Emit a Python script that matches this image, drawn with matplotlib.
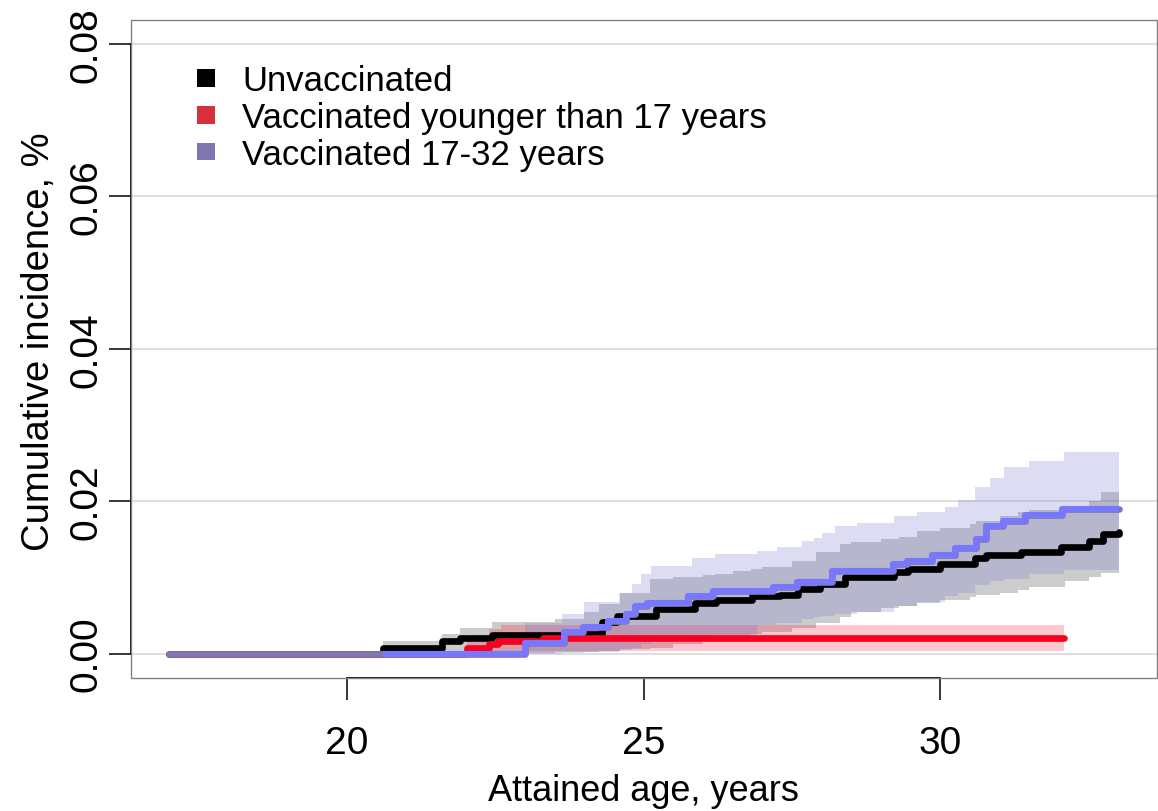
import matplotlib
matplotlib.use("Agg")
import matplotlib.pyplot as plt
import numpy as np
from matplotlib.patches import Patch, Rectangle

plt.rcParams['font.family'] = ['Liberation Sans', 'DejaVu Sans']

# ---------------- data ----------------
# Unvaccinated: cumulative incidence (%) step curve
age_unvacc = [17.0, 20.6, 21.6, 21.9, 22.45, 24.0, 24.3, 24.55, 25.2, 25.87, 26.22,
              26.82, 27.29, 27.6, 27.97, 28.39, 29.21, 29.46, 30.0, 30.59, 30.77,
              31.36, 32.03, 32.5, 32.74, 33.0]
ci_unvacc = [0.0, 0.0008, 0.0016, 0.0020, 0.0024, 0.0026, 0.0042, 0.0049, 0.0059, 0.0066,
             0.0070, 0.0075, 0.0077, 0.0085, 0.0092, 0.0101, 0.0107, 0.0111, 0.0118,
             0.0125, 0.0129, 0.0134, 0.0140, 0.0148, 0.0157, 0.0160]

# Vaccinated younger than 17 years
age_young = [17.0, 22.02, 22.4, 22.55, 23.3, 32.08]
ci_young = [0.0, 0.0008, 0.0013, 0.0016, 0.0020, 0.0020]

# Vaccinated 17-32 years
age_old = [17.0, 23.0, 23.66, 23.98, 24.39, 24.7, 24.85, 25.05, 25.74, 26.16, 27.17,
           27.59, 28.18, 29.2, 29.44, 29.85, 30.25, 30.6, 30.77, 31.05, 31.43, 32.05, 33.0]
ci_old = [0.0, 0.0014, 0.0029, 0.0035, 0.0043, 0.0052, 0.0062, 0.0067, 0.0076, 0.0082,
          0.0088, 0.0094, 0.0109, 0.0118, 0.0122, 0.0129, 0.0138, 0.0151, 0.0167,
          0.0174, 0.0182, 0.0190, 0.0190]

# 95% confidence bands
band_age_unvacc = [20.6, 21.6, 21.9, 22.45, 23.5, 24.0, 24.25, 24.6, 25.1, 25.5, 26.0,
                   26.2, 26.5, 26.8, 27.0, 27.5, 27.9, 28.3, 28.5, 29.0, 29.3, 29.6,
                   30.0, 30.5, 30.6, 31.0, 31.3, 31.5, 32.1, 32.5, 32.7, 33.0]
band_upper_unvacc = [0.0016, 0.0026, 0.0033, 0.0042, 0.0046, 0.0055, 0.0065, 0.0079,
                     0.0098, 0.0100, 0.0103, 0.0105, 0.0108, 0.0111, 0.0114, 0.0122,
                     0.0133, 0.0144, 0.0146, 0.0150, 0.0153, 0.0161, 0.0165, 0.0170,
                     0.0174, 0.0180, 0.0186, 0.0188, 0.0193, 0.0200, 0.0212, 0.0212]
band_lower_unvacc = [0.0, 0.0, 0.0, 0.0001, 0.0002, 0.0002, 0.0004, 0.0006, 0.0008,
                     0.0012, 0.0016, 0.0018, 0.0022, 0.0026, 0.0028, 0.0034, 0.0040,
                     0.0048, 0.0054, 0.0060, 0.0063, 0.0066, 0.0070, 0.0074, 0.0077,
                     0.0080, 0.0084, 0.0088, 0.0095, 0.0100, 0.0106, 0.0108]

band_age_young = [22.02, 22.4, 22.6, 32.08]
band_upper_young = [0.0024, 0.0032, 0.0037, 0.0037]
band_lower_young = [0.0001, 0.0002, 0.0003, 0.0003]

band_age_old = [23.0, 23.63, 24.0, 24.59, 24.8, 24.96, 25.13, 25.82, 26.2, 26.9, 27.24,
                27.66, 27.87, 28.0, 28.23, 28.6, 29.22, 29.6, 30.08, 30.29, 30.59,
                30.83, 31.07, 31.49, 32.08, 33.0]
band_upper_old = [0.0040, 0.0052, 0.0068, 0.0079, 0.0092, 0.0105, 0.0115, 0.0125, 0.0131,
                  0.0135, 0.0140, 0.0148, 0.0152, 0.0158, 0.0167, 0.0172, 0.0180, 0.0186,
                  0.0193, 0.0201, 0.0219, 0.0230, 0.0245, 0.0253, 0.0265, 0.0265]
band_lower_old = [0.0, 0.0001, 0.0002, 0.0005, 0.0008, 0.0012, 0.0015, 0.0020, 0.0025,
                  0.0037, 0.0040, 0.0045, 0.0048, 0.0050, 0.0052, 0.0054, 0.0063, 0.0068,
                  0.0075, 0.0080, 0.0090, 0.0095, 0.0098, 0.0104, 0.0110, 0.0116]

labels = ["Unvaccinated", "Vaccinated younger than 17 years", "Vaccinated 17-32 years"]
legend_colors = ["#000000", "#D5303C", "#8077B0"]

x_ticks = [20, 25, 30]
y_ticks = [0.00, 0.02, 0.04, 0.06, 0.08]
y_tick_labels = ["0.00", "0.02", "0.04", "0.06", "0.08"]

# ---------------- figure ----------------
fig = plt.figure(figsize=(11.58, 8.12), dpi=100)
ax = fig.add_axes([131 / 1158, 133 / 812, 1025.5 / 1158, 658.4 / 812])

ax.set_xlim(16.36, 33.64)
ax.set_ylim(-0.0032, 0.0832)

# grid
for yv in y_ticks:
    ax.axhline(yv, color="#dcdcdc", lw=1.3, zorder=0)

# confidence bands
ax.fill_between(band_age_unvacc, band_lower_unvacc, band_upper_unvacc, step="post",
                color="black", alpha=0.20, lw=0, zorder=1)
ax.fill_between(band_age_young, band_lower_young, band_upper_young, step="post",
                color="#FF0020", alpha=0.22, lw=0, zorder=1)
ax.fill_between(band_age_old, band_lower_old, band_upper_old, step="post",
                color="#7A7AD0", alpha=0.26, lw=0, zorder=1)

lw = 4.8
ax.step(age_unvacc, ci_unvacc, where="post", color="black", lw=lw,
        solid_capstyle="round", zorder=3)
ax.step(age_young, ci_young, where="post", color="#F80020", lw=lw,
        solid_capstyle="round", zorder=3)
# 17-32 group: muted underlay plus bright overlay from the first event onwards
ax.step(age_old, ci_old, where="post", color="#8077B0", lw=lw,
        solid_capstyle="round", zorder=4)
first_event = age_unvacc[1]
age_old_arr = np.array(age_old)
ci_old_arr = np.array(ci_old)
idx = np.searchsorted(age_old_arr, first_event, side="right") - 1
over_x = np.concatenate([[first_event], age_old_arr[age_old_arr > first_event]])
over_y = np.concatenate([[ci_old_arr[idx]], ci_old_arr[age_old_arr > first_event]])
ax.step(over_x, over_y, where="post", color="#7878FF", lw=lw - 0.4,
        solid_capstyle="butt", zorder=5)

# frame: grey box + black axis lines between extreme ticks
for s in ["top", "right"]:
    ax.spines[s].set_visible(False)
ax.spines["left"].set_bounds(0, 0.08)
ax.spines["bottom"].set_bounds(20, 30)
ax.spines["left"].set_linewidth(1.3)
ax.spines["bottom"].set_linewidth(1.3)
ax.add_patch(Rectangle((0, 0), 1, 1, transform=ax.transAxes, fill=False,
                       ec="#808080", lw=1.0, clip_on=False, zorder=6))

ax.set_xticks(x_ticks)
ax.set_xticklabels([str(v) for v in x_ticks])
ax.set_yticks(y_ticks)
ax.set_yticklabels(y_tick_labels, rotation=90, va="center")
ax.tick_params(axis="both", direction="out", length=16, width=1.1, labelsize=28)
ax.tick_params(axis="x", pad=18)
ax.tick_params(axis="y", pad=3)

ax.set_xlabel("Attained age, years", fontsize=26)
ax.xaxis.set_label_coords(0.5, -0.145)
ax.set_ylabel("Cumulative incidence, %", fontsize=27.5)
ax.yaxis.set_label_coords(-0.0717, 0.512)

handles = [Patch(facecolor=c, edgecolor="none") for c in legend_colors]
ax.legend(handles, labels, loc="upper left", bbox_to_anchor=(0.064, 0.932),
          frameon=False, fontsize=25, handlelength=0.52, handleheight=0.40,
          handletextpad=0.8, labelspacing=0.11, borderpad=0, borderaxespad=0)

fig.savefig("out.png", dpi=100)
